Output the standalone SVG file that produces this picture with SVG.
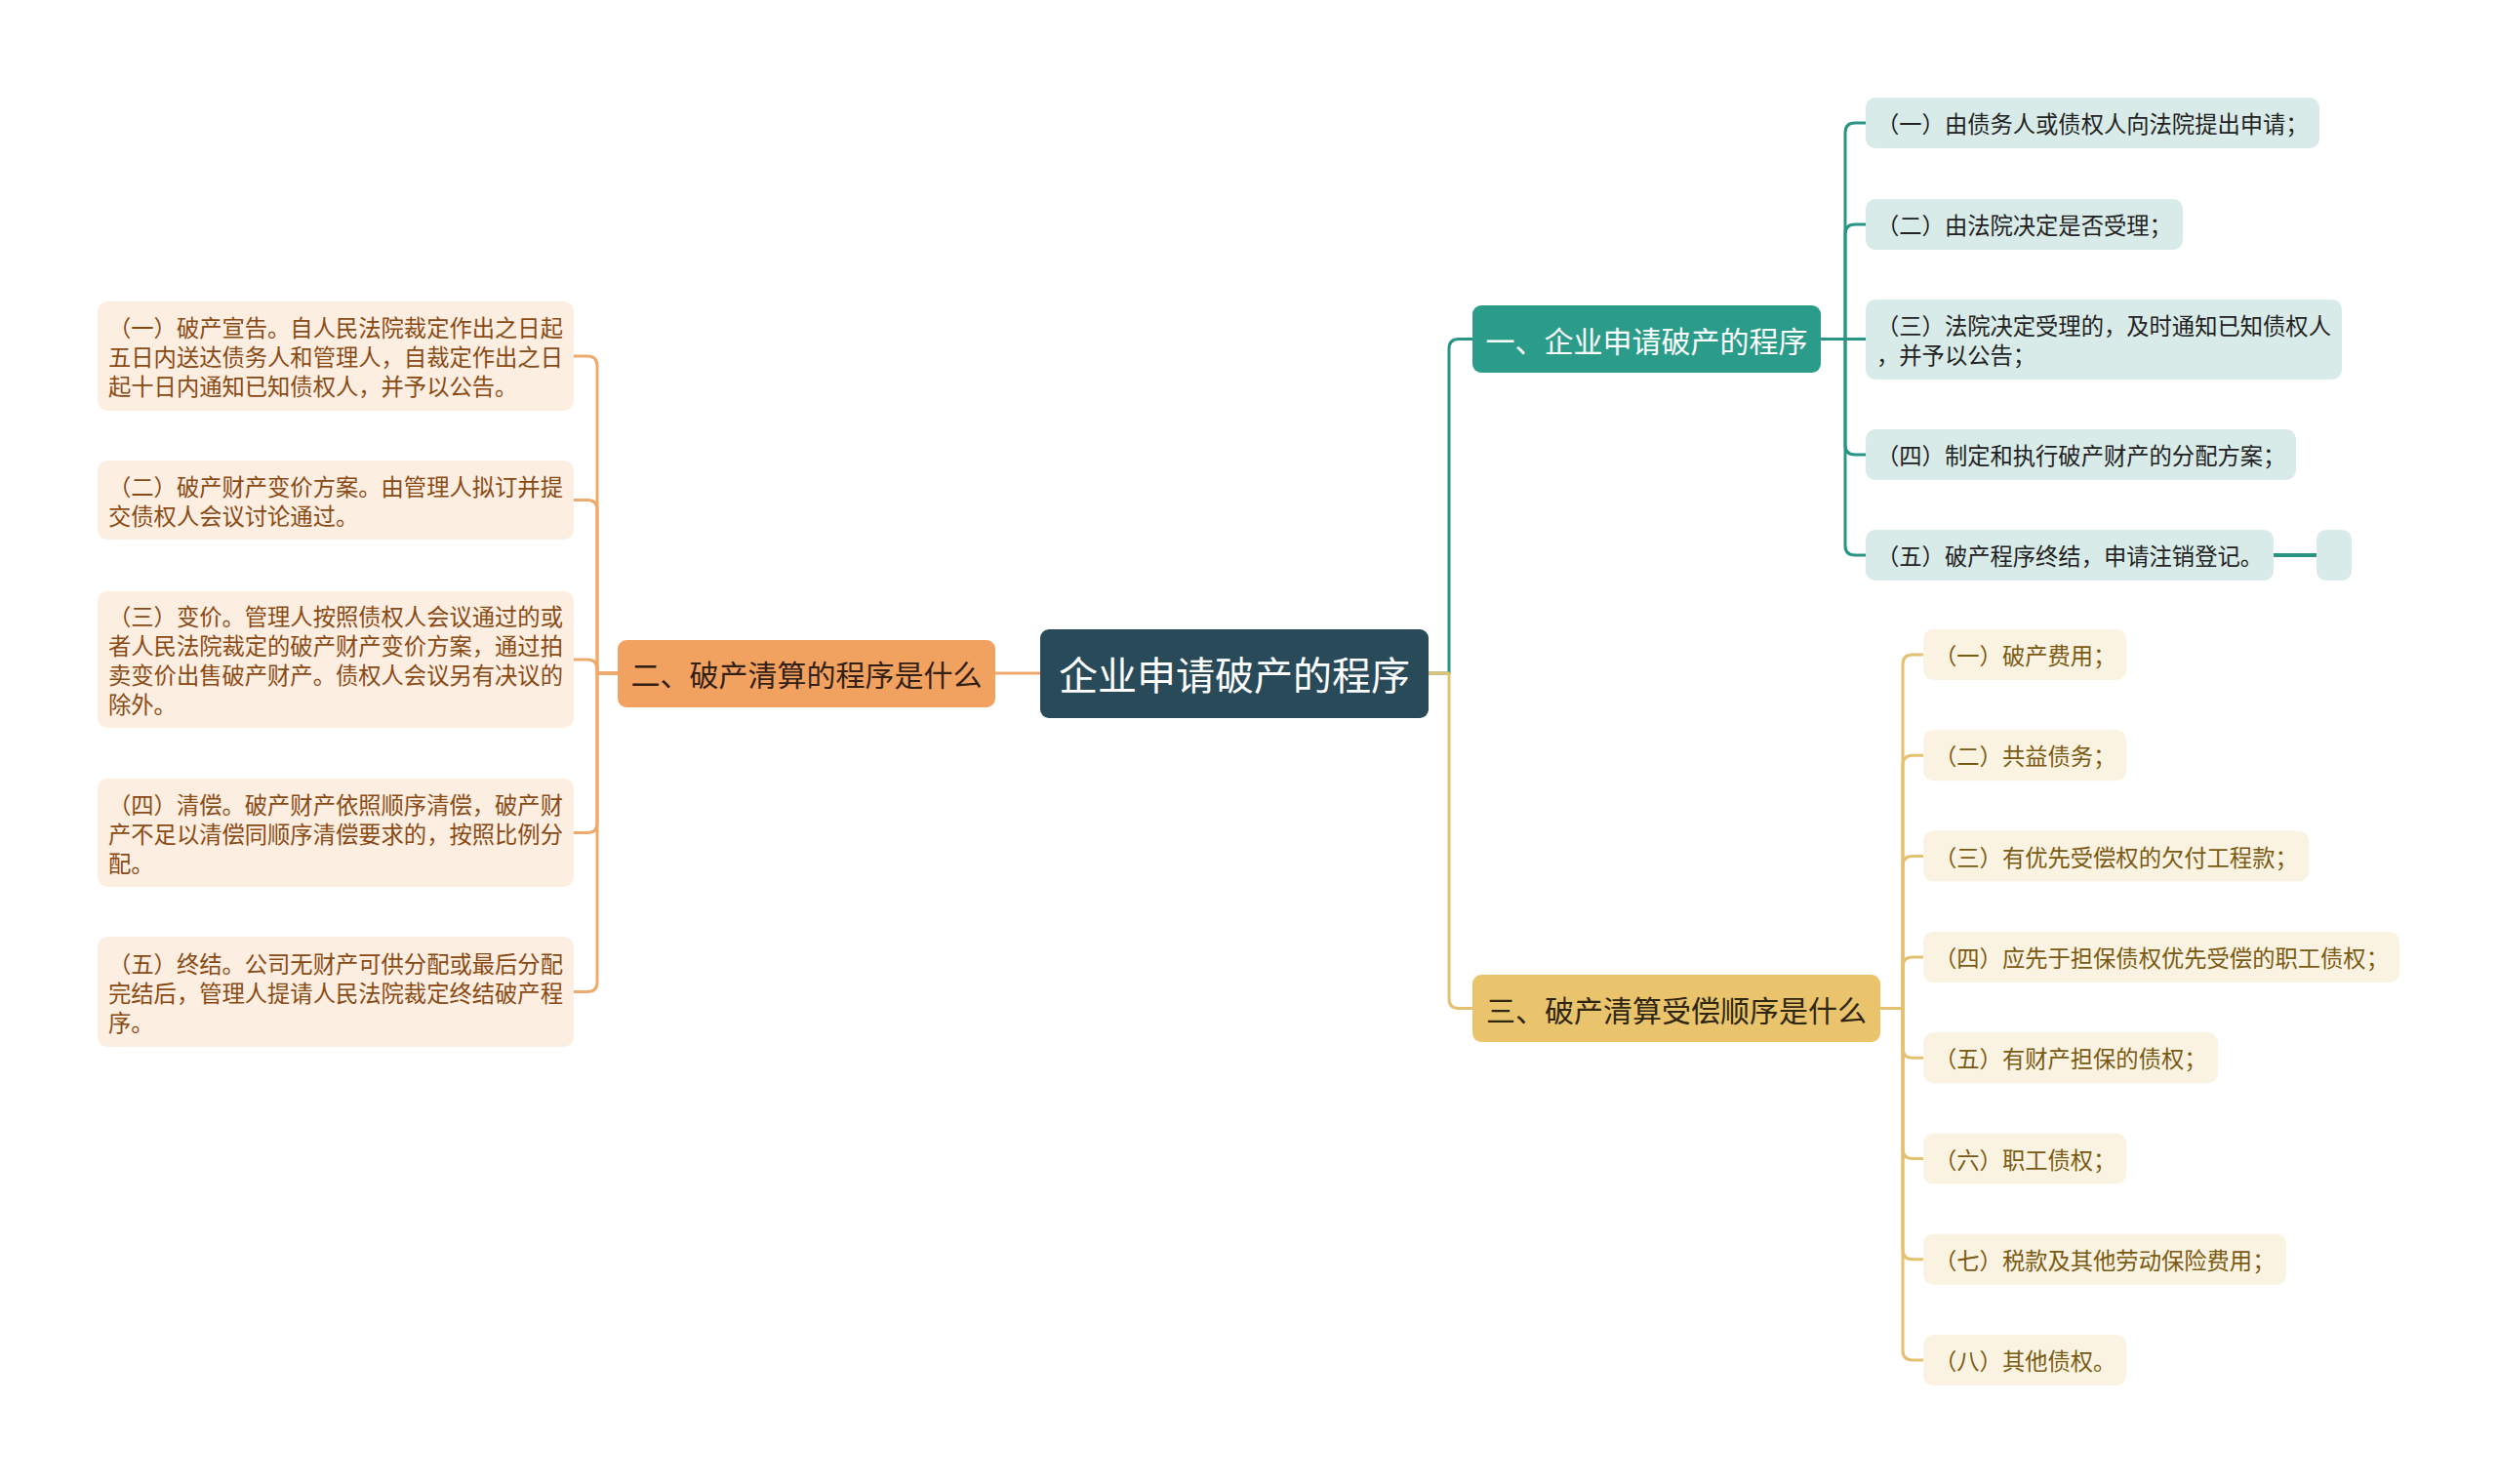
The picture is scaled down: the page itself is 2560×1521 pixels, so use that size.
<svg xmlns="http://www.w3.org/2000/svg" width="2560" height="1521" viewBox="0 0 2560 1521">
<style>
text{font-family:"Noto Sans CJK SC","Microsoft YaHei",sans-serif;dominant-baseline:central}
.leaf{font-size:23.3px}
.l1{font-size:30px;text-anchor:middle}
.root{font-size:40px;text-anchor:middle;fill:#ffffff}
.c{fill:none;stroke-width:3;stroke-linecap:round;stroke-linejoin:round}
.co{stroke:#eeaa6c}.ct{stroke:#2a9584}.cy{stroke:#e3c170}
.bo{fill:#fdeee2}.to{fill:#8a4a14}
.bt{fill:#d8ebe8}.tt{fill:#222222}
.by{fill:#fbf3e1}.ty{fill:#7a5a12}
</style>
<rect width="2560" height="1521" fill="#ffffff"/>
<g id="connectors">
<path class="c co" d="M1066,690 H1020"/>
<path class="c co" d="M633,690 H612 V375 Q612,365 602,365 H588"/>
<path class="c co" d="M633,690 H612 V522.5 Q612,512.5 602,512.5 H588"/>
<path class="c co" d="M633,690 H612 V686 Q612,676 602,676 H588"/>
<path class="c co" d="M633,690 H612 V843.5 Q612,853.5 602,853.5 H588"/>
<path class="c co" d="M633,690 H612 V1006.5 Q612,1016.5 602,1016.5 H588"/>
<path class="c ct" d="M1464,690 H1485 V357.5 Q1485,347.5 1495,347.5 H1509"/>
<path class="c cy" d="M1464,690 H1485 V1023.5 Q1485,1033.5 1495,1033.5 H1509"/>
<path class="c ct" d="M1866,347.5 H1891 V136 Q1891,126 1901,126 H1912"/>
<path class="c ct" d="M1866,347.5 H1891 V240 Q1891,230 1901,230 H1912"/>
<path class="c ct" d="M1866,347.5 H1912"/>
<path class="c ct" d="M1866,347.5 H1891 V456 Q1891,466 1901,466 H1912"/>
<path class="c ct" d="M1866,347.5 H1891 V559 Q1891,569 1901,569 H1912"/>
<path class="c ct" d="M2330,569 H2374" style="stroke-width:4"/>
<path class="c cy" d="M1927,1033.5 H1950 V681 Q1950,671 1960,671 H1971"/>
<path class="c cy" d="M1927,1033.5 H1950 V784.3 Q1950,774.3 1960,774.3 H1971"/>
<path class="c cy" d="M1927,1033.5 H1950 V887.6 Q1950,877.6 1960,877.6 H1971"/>
<path class="c cy" d="M1927,1033.5 H1950 V990.9 Q1950,980.9 1960,980.9 H1971"/>
<path class="c cy" d="M1927,1033.5 H1950 V1074.2 Q1950,1084.2 1960,1084.2 H1971"/>
<path class="c cy" d="M1927,1033.5 H1950 V1177.5 Q1950,1187.5 1960,1187.5 H1971"/>
<path class="c cy" d="M1927,1033.5 H1950 V1280.8 Q1950,1290.8 1960,1290.8 H1971"/>
<path class="c cy" d="M1927,1033.5 H1950 V1384.1 Q1950,1394.1 1960,1394.1 H1971"/>
</g>
<g id="root">
<rect x="1066" y="645" width="398" height="91" rx="9" fill="#284a59"/>
<text class="root" x="1265" y="690">企业申请破产的程序</text>
</g>
<g id="branch-2">
<rect x="633" y="656" width="387" height="69" rx="9" fill="#f1a261"/>
<text class="l1" x="826.5" y="690" fill="#332014">二、破产清算的程序是什么</text>
</g>
<g id="branch-1">
<rect x="1509" y="313" width="357" height="69" rx="9" fill="#2c9c8a"/>
<text class="l1" x="1687.5" y="347.5" fill="#ffffff">一、企业申请破产的程序</text>
</g>
<g id="branch-3">
<rect x="1509" y="999" width="418" height="69" rx="9" fill="#e9c46c"/>
<text class="l1" x="1718" y="1033.5" fill="#2e2610">三、破产清算受偿顺序是什么</text>
</g>
<g id="left-1">
<rect class="bo" x="100" y="309" width="488" height="112" rx="10"/>
<text class="leaf to" x="111"><tspan x="111" y="335">（一）破产宣告。自人民法院裁定作出之日起</tspan><tspan x="111" y="365">五日内送达债务人和管理人，自裁定作出之日</tspan><tspan x="111" y="395">起十日内通知已知债权人，并予以公告。</tspan></text>
</g>
<g id="left-2">
<rect class="bo" x="100" y="472" width="488" height="81" rx="10"/>
<text class="leaf to" x="111"><tspan x="111" y="497.5">（二）破产财产变价方案。由管理人拟订并提</tspan><tspan x="111" y="527.5">交债权人会议讨论通过。</tspan></text>
</g>
<g id="left-3">
<rect class="bo" x="100" y="606" width="488" height="140" rx="10"/>
<text class="leaf to" x="111"><tspan x="111" y="631">（三）变价。管理人按照债权人会议通过的或</tspan><tspan x="111" y="661">者人民法院裁定的破产财产变价方案，通过拍</tspan><tspan x="111" y="691">卖变价出售破产财产。债权人会议另有决议的</tspan><tspan x="111" y="721">除外。</tspan></text>
</g>
<g id="left-4">
<rect class="bo" x="100" y="798" width="488" height="111" rx="10"/>
<text class="leaf to" x="111"><tspan x="111" y="823.5">（四）清偿。破产财产依照顺序清偿，破产财</tspan><tspan x="111" y="853.5">产不足以清偿同顺序清偿要求的，按照比例分</tspan><tspan x="111" y="883.5">配。</tspan></text>
</g>
<g id="left-5">
<rect class="bo" x="100" y="960" width="488" height="113" rx="10"/>
<text class="leaf to" x="111"><tspan x="111" y="986.5">（五）终结。公司无财产可供分配或最后分配</tspan><tspan x="111" y="1016.5">完结后，管理人提请人民法院裁定终结破产程</tspan><tspan x="111" y="1046.5">序。</tspan></text>
</g>
<g id="teal-1">
<rect class="bt" x="1912" y="100" width="465" height="52" rx="10"/>
<text class="leaf tt" x="1923" y="126">（一）由债务人或债权人向法院提出申请；</text>
</g>
<g id="teal-2">
<rect class="bt" x="1912" y="204" width="325" height="52" rx="10"/>
<text class="leaf tt" x="1923" y="230">（二）由法院决定是否受理；</text>
</g>
<g id="teal-3">
<rect class="bt" x="1912" y="307" width="488" height="82" rx="10"/>
<text class="leaf tt"><tspan x="1923" y="333">（三）法院决定受理的，及时通知已知债权人</tspan><tspan x="1923" y="363">，并予以公告；</tspan></text>
</g>
<g id="teal-4">
<rect class="bt" x="1912" y="440" width="441" height="52" rx="10"/>
<text class="leaf tt" x="1923" y="466">（四）制定和执行破产财产的分配方案；</text>
</g>
<g id="teal-5">
<rect class="bt" x="1912" y="543" width="418" height="52" rx="10"/>
<text class="leaf tt" x="1923" y="569">（五）破产程序终结，申请注销登记。</text>
</g>
<g id="teal-5-child">
<rect class="bt" x="2374" y="543" width="36" height="52" rx="10"/>
</g>
<g id="yellow-1">
<rect class="by" x="1971" y="645" width="208" height="52" rx="10"/>
<text class="leaf ty" x="1982" y="671">（一）破产费用；</text>
</g>
<g id="yellow-2">
<rect class="by" x="1971" y="748.3" width="208" height="52" rx="10"/>
<text class="leaf ty" x="1982" y="774.3">（二）共益债务；</text>
</g>
<g id="yellow-3">
<rect class="by" x="1971" y="851.6" width="395" height="52" rx="10"/>
<text class="leaf ty" x="1982" y="877.6">（三）有优先受偿权的欠付工程款；</text>
</g>
<g id="yellow-4">
<rect class="by" x="1971" y="954.9" width="488" height="52" rx="10"/>
<text class="leaf ty" x="1982" y="980.9">（四）应先于担保债权优先受偿的职工债权；</text>
</g>
<g id="yellow-5">
<rect class="by" x="1971" y="1058.2" width="302" height="52" rx="10"/>
<text class="leaf ty" x="1982" y="1084.2">（五）有财产担保的债权；</text>
</g>
<g id="yellow-6">
<rect class="by" x="1971" y="1161.5" width="208" height="52" rx="10"/>
<text class="leaf ty" x="1982" y="1187.5">（六）职工债权；</text>
</g>
<g id="yellow-7">
<rect class="by" x="1971" y="1264.8" width="372" height="52" rx="10"/>
<text class="leaf ty" x="1982" y="1290.8">（七）税款及其他劳动保险费用；</text>
</g>
<g id="yellow-8">
<rect class="by" x="1971" y="1368.1" width="208" height="52" rx="10"/>
<text class="leaf ty" x="1982" y="1394.1">（八）其他债权。</text>
</g>
</svg>
